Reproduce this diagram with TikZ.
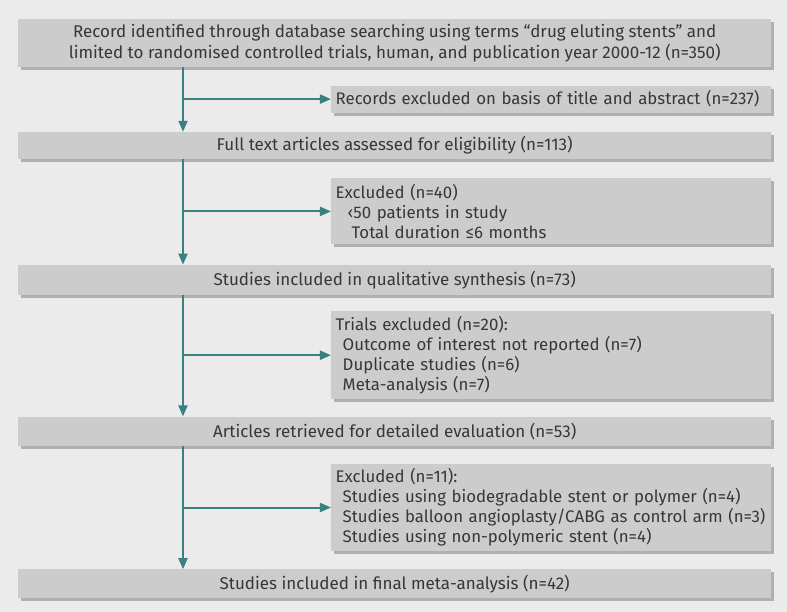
\documentclass[tikz,border=0pt]{standalone}
\usepackage{fontspec}
\setmainfont{Fira Sans}
\usepackage{tikz}
\usetikzlibrary{arrows.meta,positioning,calc,shadows,backgrounds}
\definecolor{pagegray}{RGB}{235,235,235}
\definecolor{boxgray}{RGB}{204,204,204}
\definecolor{shadegray}{RGB}{176,176,176}
\definecolor{flowteal}{RGB}{58,128,128}
\definecolor{inkgray}{RGB}{55,55,55}
\tikzset{
  boxshade/.style={drop shadow={shadow xshift=3pt, shadow yshift=-3pt,
    fill=shadegray, opacity=1}},
  mainbox/.style={rectangle, fill=boxgray, boxshade, minimum width=753pt,
    align=center, inner sep=0pt, text=inkgray,
    font=\fontsize{17pt}{21pt}\selectfont},
  sidebox/.style={rectangle, fill=boxgray, boxshade, minimum width=440pt,
    text width=431pt, align=left, inner xsep=4.5pt, inner ysep=0pt, text=inkgray,
    font=\fontsize{16.8pt}{20pt}\selectfont},
  arrow/.style={-{Triangle[length=11pt,width=9pt]}, line width=2pt, draw=flowteal},
}
\newcommand{\indentby}[1]{\hspace*{#1}}

\begin{document}
\begin{tikzpicture}

\node[mainbox, minimum height=48pt] (ident) {Record identified through database searching using terms “drug eluting stents” and\\limited to randomised controlled trials, human, and publication year 2000-12 (n=350)};
\node[sidebox, minimum height=27pt, below=18pt of ident.south east, anchor=north east] (exctitle) {Records excluded on basis of title and abstract (n=237)};
\node[mainbox, minimum height=27pt, anchor=north] (fulltext) at ($(exctitle.south -| ident.south)+(0,-19pt)$) {Full text articles assessed for eligibility (n=113)};
\node[sidebox, minimum height=66pt, below=19pt of fulltext.south east, anchor=north east] (excsize) {Excluded (n=40)\\\indentby{12pt}‹50 patients in study\\\indentby{16pt}Total duration ≤6 months};
\node[mainbox, minimum height=30pt, anchor=north] (qual) at ($(excsize.south -| ident.south)+(0,-20pt)$) {Studies included in qualitative synthesis (n=73)};
\node[sidebox, minimum height=88pt, below=16pt of qual.south east, anchor=north east] (exctrials) {Trials excluded (n=20):\\\indentby{7pt}Outcome of interest not reported (n=7)\\\indentby{7pt}Duplicate studies (n=6)\\\indentby{7pt}Meta-analysis (n=7)};
\node[mainbox, minimum height=29pt, anchor=north] (retrieved) at ($(exctrials.south -| ident.south)+(0,-17pt)$) {Articles retrieved for detailed evaluation (n=53)};
\node[sidebox, minimum height=87pt, below=18pt of retrieved.south east, anchor=north east] (excdesign) {Excluded (n=11):\\\indentby{7pt}Studies using biodegradable stent or polymer (n=4)\\\indentby{7pt}Studies balloon angioplasty/CABG as control arm (n=3)\\\indentby{7pt}Studies using non-polymeric stent (n=4)};
\node[mainbox, minimum height=29pt, anchor=north] (final) at ($(excdesign.south -| ident.south)+(0,-18pt)$) {Studies included in final meta-analysis (n=42)};

% spine of the flow
\coordinate (spine) at ($(ident.south west)+(165pt,0)$);

\draw[arrow] (ident.south -| spine) -- (fulltext.north -| spine);
\draw[arrow] (fulltext.south -| spine) -- (qual.north -| spine);
\draw[arrow] (qual.south -| spine) -- (retrieved.north -| spine);
\draw[arrow] (retrieved.south -| spine) -- (final.north -| spine);

\draw[arrow] (exctitle.west -| spine) -- (exctitle.west);
\draw[arrow] (excsize.west -| spine) -- (excsize.west);
\draw[arrow] (exctrials.west -| spine) -- (exctrials.west);
\draw[arrow] (excdesign.west -| spine) -- (excdesign.west);

\begin{scope}[on background layer]
\fill[pagegray] ($(ident.north west)+(-18pt,19pt)$) rectangle ($(ident.north west)+(769pt,-593pt)$);
\end{scope}
\useasboundingbox ($(ident.north west)+(-18pt,19pt)$) rectangle ($(ident.north west)+(769pt,-593pt)$);
\end{tikzpicture}
\end{document}
